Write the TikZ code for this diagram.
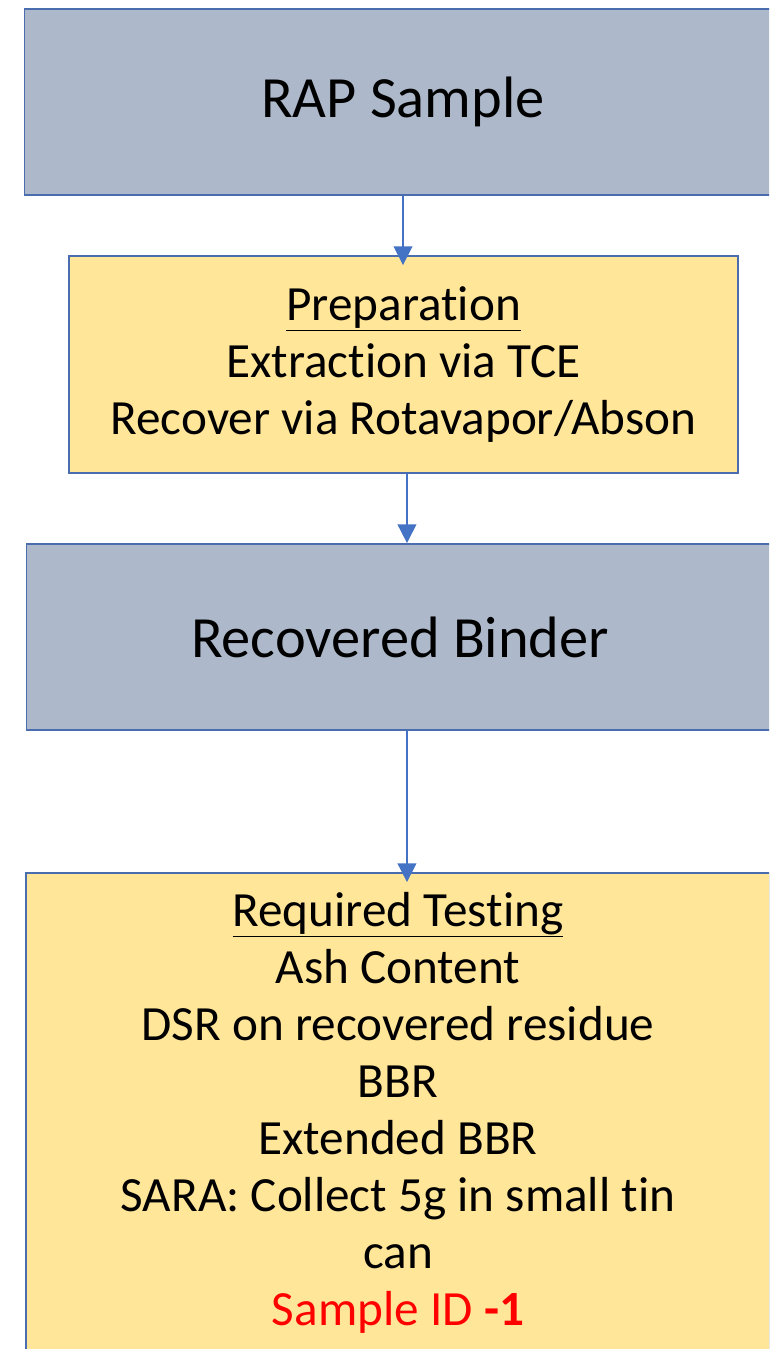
\documentclass[tikz,border=0pt]{standalone}
\usepackage{fontspec}
\setmainfont[Ligatures=NoCommon]{Carlito}
\usetikzlibrary{arrows.meta}
\definecolor{bluegray}{HTML}{ADB9CA}
\definecolor{gold}{HTML}{FFE699}
\definecolor{edge}{HTML}{4A6DB0}
\definecolor{arrowblue}{HTML}{4472C4}
\definecolor{redtext}{HTML}{FF0000}
\tikzset{
  bigbox/.style={draw=edge, line width=1.4pt, fill=bluegray, inner sep=0pt,
    font=\fontsize{43.8}{52}\selectfont, text=black},
  yellowbox/.style={draw=edge, line width=1.4pt, fill=gold, inner sep=0pt, align=center,
    font=\fontsize{36.9}{42.75}\selectfont, text=black},
  arr/.style={draw=arrowblue, line width=1.3pt, -{Triangle[length=14pt,width=14pt]}}
}
\begin{document}
\begin{tikzpicture}[x=0.75pt,y=-0.75pt]
\useasboundingbox (0,0) rectangle (769,1349);
\clip (0,0) rectangle (769,1349);
\node[bigbox, minimum width=567.75pt, minimum height=139.5pt] (b1) at (403,102) {RAP Sample};
\node[yellowbox, minimum width=501.75pt, minimum height=162.75pt] (b2) at (403.5,364.5)
  {\underline{Preparation}\\Extraction via TCE\\Recover via Rotavapor/Abson};
\node[bigbox, minimum width=560.25pt, minimum height=139.5pt] (b3) at (400,637) {Recovered Binder};
\node[yellowbox, minimum width=558pt, minimum height=359.25pt] (b4) at (398,1112.5)
  {\underline{Required Testing}\\Ash Content\\DSR on recovered residue\\BBR\\Extended BBR\\SARA: Collect 5g in small tin\\can\\\textcolor{redtext}{Sample ID \textbf{-1}}};
\draw[arr] (b1.south) -- ([yshift=-7.5pt]b1.south |- b2.north);
\draw[arr] ([xshift=2.6pt]b2.south) -- ([xshift=2.6pt]b2.south |- b3.north);
\draw[arr] ([xshift=2.6pt]b2.south |- b3.south) -- ([xshift=2.6pt,yshift=-7.5pt]b2.south |- b4.north);
\end{tikzpicture}
\end{document}
